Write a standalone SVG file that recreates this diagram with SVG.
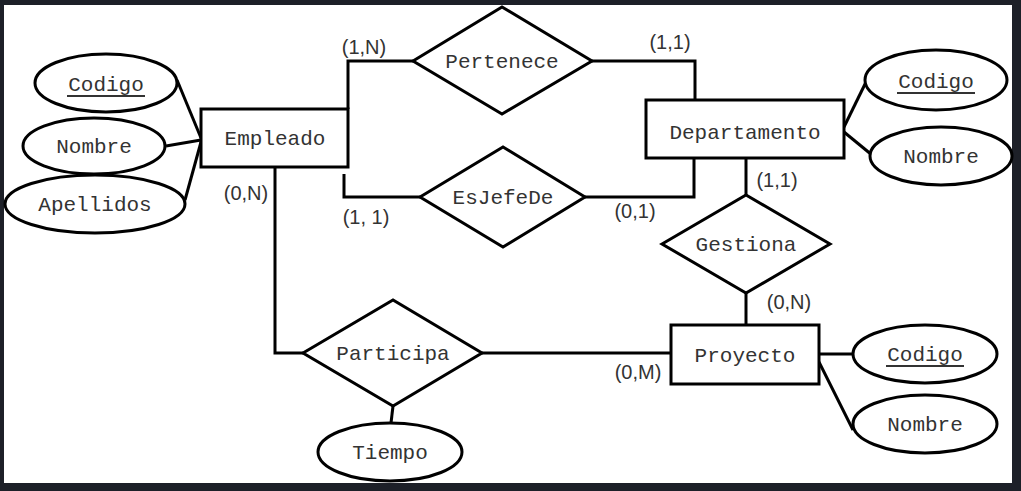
<svg xmlns="http://www.w3.org/2000/svg" width="1021" height="491" viewBox="0 0 1021 491">
<style>
.s{fill:#fff;stroke:#000;stroke-width:3}
.c{fill:none;stroke:#000;stroke-width:3}
.t{font-family:"Liberation Mono","Courier New",monospace;font-size:21px;fill:#333;text-anchor:middle}
.l{font-family:"Liberation Sans",Arial,sans-serif;font-size:20px;fill:#333;text-anchor:middle}
.u{stroke:#333;stroke-width:2}
</style>
<rect x="0" y="0" width="1021" height="491" fill="#1d2028"/>
<rect x="4" y="5" width="1008" height="478" fill="#fff"/>
<g id="connectors">
<polyline class="c" points="413,61 348,61 348,109"/>
<polyline class="c" points="592,61 695,61 695,100"/>
<polyline class="c" points="344,174 344,197 420,197"/>
<polyline class="c" points="585,197 694,197 694,158"/>
<line class="c" x1="746" y1="158" x2="746" y2="195"/>
<line class="c" x1="746" y1="293" x2="746" y2="325"/>
<polyline class="c" points="275,167 275,353 303,353"/>
<line class="c" x1="482" y1="353" x2="671" y2="353"/>
<line class="c" x1="393" y1="406" x2="391" y2="423"/>
<line class="c" x1="177" y1="80" x2="201" y2="138"/>
<line class="c" x1="166" y1="146" x2="201" y2="140"/>
<line class="c" x1="185" y1="200" x2="201" y2="142"/>
<line class="c" x1="844" y1="127" x2="867" y2="80"/>
<line class="c" x1="844" y1="132" x2="872" y2="155"/>
<line class="c" x1="819" y1="354" x2="853" y2="354"/>
<line class="c" x1="819" y1="362" x2="853" y2="430"/>
<text class="l" x="364" y="54">(1,N)</text>
<text class="l" x="670" y="49">(1,1)</text>
<text class="l" x="366" y="224">(1, 1)</text>
<text class="l" x="635" y="218">(0,1)</text>
<text class="l" x="246" y="200">(0,N)</text>
<text class="l" x="777" y="187">(1,1)</text>
<text class="l" x="789" y="309">(0,N)</text>
<text class="l" x="638" y="379">(0,M)</text>
</g>
<g id="empleado"><rect class="s" x="201" y="109" width="147" height="58"/><text class="t" x="275" y="145">Empleado</text></g>
<g id="departamento"><rect class="s" x="646" y="100" width="198" height="58"/><text class="t" x="745" y="139">Departamento</text></g>
<g id="proyecto"><rect class="s" x="671" y="325" width="148" height="59"/><text class="t" x="745" y="362">Proyecto</text></g>
<g id="pertenece"><polygon class="s" points="413,61 502,7 592,61 502,114"/><text class="t" x="502" y="68">Pertenece</text></g>
<g id="esjefede"><polygon class="s" points="420,197 503,147 585,197 503,247"/><text class="t" x="503" y="204">EsJefeDe</text></g>
<g id="gestiona"><polygon class="s" points="662,244 746,195 830,244 746,293"/><text class="t" x="746" y="251">Gestiona</text></g>
<g id="participa"><polygon class="s" points="303,353 393,300 482,353 393,406"/><text class="t" x="393" y="360">Participa</text></g>
<g id="emp-codigo"><ellipse class="s" cx="106" cy="83" rx="71" ry="29"/><text class="t" x="106" y="91">Codigo</text><line class="u" x1="67" y1="96" x2="145" y2="96"/></g>
<g id="emp-nombre"><ellipse class="s" cx="94" cy="146" rx="71" ry="28"/><text class="t" x="94" y="153">Nombre</text></g>
<g id="emp-apellidos"><ellipse class="s" cx="95" cy="204" rx="90" ry="29"/><text class="t" x="95" y="211">Apellidos</text></g>
<g id="dep-codigo"><ellipse class="s" cx="936" cy="80" rx="71" ry="30"/><text class="t" x="936" y="88">Codigo</text><line class="u" x1="897" y1="93" x2="975" y2="93"/></g>
<g id="dep-nombre"><ellipse class="s" cx="941" cy="156" rx="71" ry="29"/><text class="t" x="941" y="163">Nombre</text></g>
<g id="pro-codigo"><ellipse class="s" cx="925" cy="354" rx="72" ry="29"/><text class="t" x="925" y="361">Codigo</text><line class="u" x1="886" y1="366" x2="964" y2="366"/></g>
<g id="pro-nombre"><ellipse class="s" cx="925" cy="424" rx="72" ry="29"/><text class="t" x="925" y="431">Nombre</text></g>
<g id="tiempo"><ellipse class="s" cx="390" cy="452" rx="72" ry="29"/><text class="t" x="390" y="459">Tiempo</text></g>
</svg>
